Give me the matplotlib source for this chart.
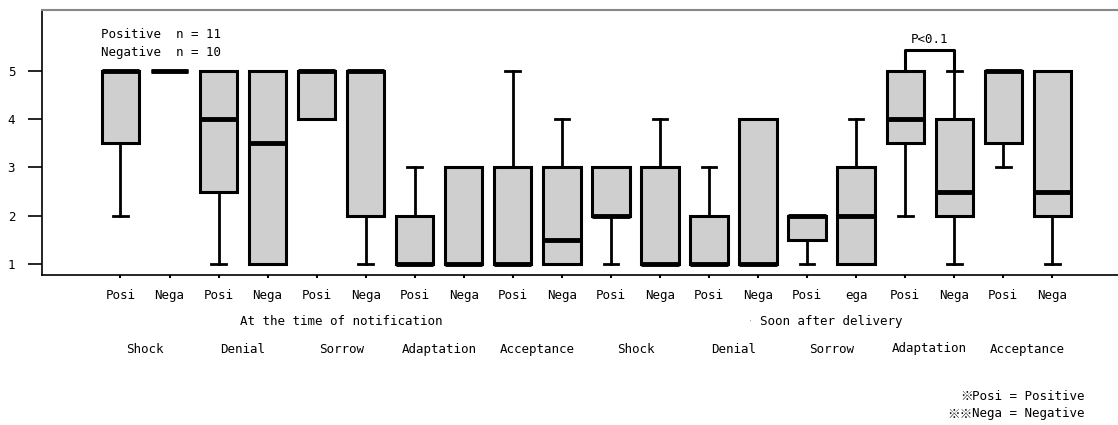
import numpy as np
import matplotlib.pyplot as plt
import matplotlib.transforms as mtransforms

plt.rcParams['font.family'] = ['DejaVu Sans Mono', 'Noto Sans CJK JP']

tick_labels = ["Posi", "Nega"] * 7 + ["Posi", "ega"] + ["Posi", "Nega"] * 2
stages = ["Shock", "Denial", "Sorrow", "Adaptation", "Acceptance"] * 2
periods = ["At the time of notification", "Soon after delivery"]
notes = [("※", "Posi = Positive"), ("※※", "Nega = Negative")]

# whisker low, q1, median, q3, whisker high
whislo = [2, 5, 1, 1, 4, 1, 1, 1, 1, 1, 1, 1, 1, 1, 1, 1, 2, 1, 3, 1]
q1 = [3.5, 5, 2.5, 1, 4, 2, 1, 1, 1, 1, 2, 1, 1, 1, 1.5, 1, 3.5, 2, 3.5, 2]
med = [5, 5, 4, 3.5, 5, 5, 1, 1, 1, 1.5, 2, 1, 1, 1, 2, 2, 4, 2.5, 5, 2.5]
q3 = [5, 5, 5, 5, 5, 5, 2, 3, 3, 3, 3, 3, 2, 4, 2, 3, 5, 4, 5, 5]
whishi = [5, 5, 5, 5, 5, 5, 3, 3, 5, 4, 3, 4, 3, 4, 2, 4, 5, 5, 5, 5]

stats = []
for i in range(len(med)):
    stats.append(dict(whislo=whislo[i], q1=q1[i], med=med[i], q3=q3[i],
                      whishi=whishi[i], fliers=[]))

fig = plt.figure(figsize=(11.18, 4.25), dpi=100)
ax = fig.add_axes([0.0372, 0.3518, 0.9628, 0.6247])

pos = np.arange(1, len(med) + 1)
ax.bxp(stats, positions=pos, widths=0.76, capwidths=0.3, patch_artist=True,
       showfliers=False,
       boxprops=dict(facecolor='#cfcfcf', edgecolor='black', linewidth=2.2),
       medianprops=dict(color='black', linewidth=3.5, solid_capstyle='butt'),
       whiskerprops=dict(color='black', linewidth=2),
       capprops=dict(color='black', linewidth=2))

ax.set_xlim(-0.609, 21.34)
ax.set_ylim(0.769, 6.254)
ax.set_yticks([1, 2, 3, 4, 5])
ax.set_xticks(pos)
ax.set_xticklabels(tick_labels, fontsize=9)
ax.tick_params(axis='y', length=10, width=1.2, pad=9, labelsize=9)
ax.tick_params(axis='x', length=2, width=1.5, pad=8)

ax.spines['right'].set_visible(False)
ax.spines['top'].set_color('#888888')
ax.spines['top'].set_linewidth(1.5)
ax.spines['left'].set_linewidth(1.2)
ax.spines['bottom'].set_linewidth(1.2)

# sample sizes
ax.text(0.0552, 0.906, "Positive  n = 11", transform=ax.transAxes,
        fontsize=9, va='center', ha='left')
ax.text(0.0552, 0.838, "Negative  n = 10", transform=ax.transAxes,
        fontsize=9, va='center', ha='left')

# significance bracket
ax.plot([17, 17, 18, 18], [5, 5.43, 5.43, 5], color='black', linewidth=2.2)
ax.text(17.5, 5.65, "P<0.1", fontsize=9, ha='center', va='center')

# group labels below the axis
trans = mtransforms.blended_transform_factory(ax.transData, fig.transFigure)
for k, name in enumerate(periods):
    ax.text(5.5 + 10 * k, 0.2424, name, transform=trans, fontsize=9,
            ha='center', va='center')
ax.text(13.85, 0.2424, "·", transform=trans, fontsize=6, color='#aaaaaa',
        ha='center', va='center')
for k, name in enumerate(stages):
    y = 0.181 if k == 8 else 0.1765
    ax.text(1.5 + 2 * k, y, name, transform=trans, fontsize=9,
            ha='center', va='center')

# footnotes, the reference mark drawn full width with the CJK font
renderer = fig.canvas.get_renderer()
for k, (mark, rest) in enumerate(notes):
    y = 1 - (397 + 17 * k) / 425
    t = fig.text(1085 / 1118, y, rest, fontsize=9, ha='right', va='center')
    x0 = t.get_window_extent(renderer).x0 / fig.bbox.width
    fig.text(x0, y, mark, fontsize=9, ha='right', va='center',
             family=['Noto Sans CJK JP'])

fig.savefig("out.png", dpi=100)
